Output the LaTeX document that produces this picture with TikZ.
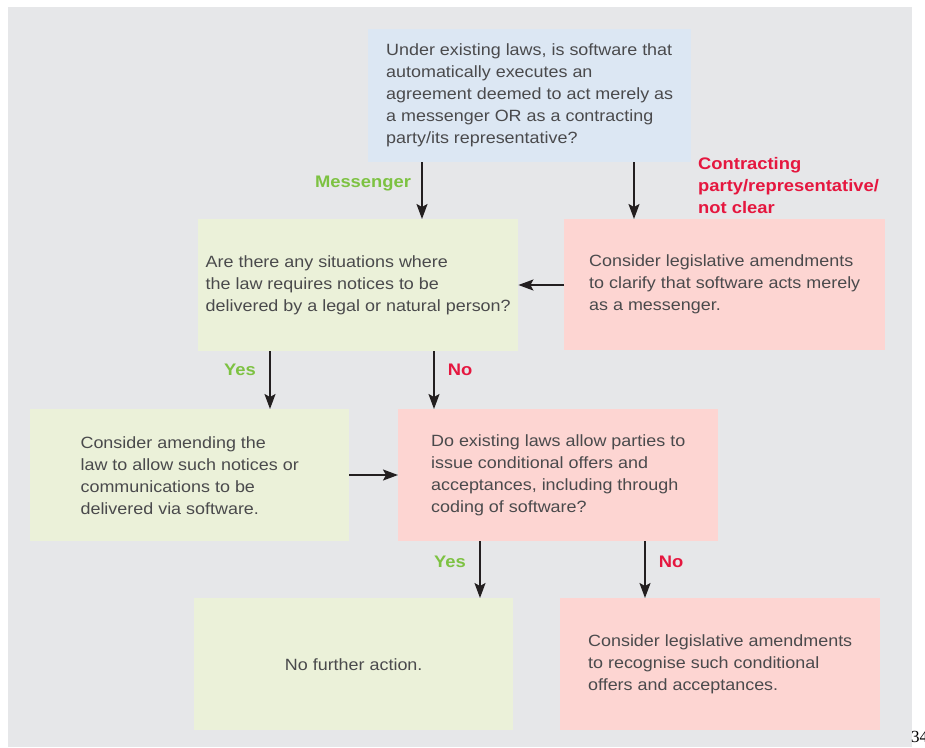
\documentclass[tikz,border=0pt]{standalone}
\usepackage{fontspec}
\setmainfont{Liberation Sans}[FakeStretch=1.1]
\newfontfamily\pnfont{Liberation Serif}
\usetikzlibrary{arrows.meta,calc}
\definecolor{bggray}{HTML}{E6E7E9}
\definecolor{qblue}{HTML}{DCE7F3}
\definecolor{bgreen}{HTML}{EBF1D9}
\definecolor{bpink}{HTML}{FDD5D2}
\definecolor{txt}{HTML}{4A4A4C}
\definecolor{lgreen}{HTML}{7DC242}
\definecolor{lred}{HTML}{E5173F}
\definecolor{arrowc}{HTML}{231F20}
\newcommand{\bodyfs}{\fontsize{16.3}{22}\selectfont}
\newcommand{\labfs}{\fontsize{16.7}{22}\selectfont\bfseries}
\begin{document}
\begin{tikzpicture}[x=1pt,y=-1pt,
  boxnode/.style={rectangle, inner sep=0pt, align=left, font=\bodyfs, text=txt, anchor=north west},
  arr/.style={draw=arrowc, line width=1.8pt, -{Stealth[length=15pt,width=11pt,inset=3pt]}},
  yeslab/.style={font=\labfs, text=lgreen},
  nolab/.style={font=\labfs, text=lred}]
\useasboundingbox (0,0) rectangle (925,747);
\fill[bggray] (8,7) rectangle (912,747);

\node[boxnode, fill=qblue, minimum width=323pt, minimum height=133pt] (q1) at (368,29)
  {Under existing laws, is software that\\automatically executes an\\agreement deemed to act merely as\\a messenger OR as a contracting\\party/its representative?};
\node[boxnode, fill=bgreen, minimum width=320pt, minimum height=132pt] (q2) at (198,219)
  {Are there any situations where\\the law requires notices to be\\delivered by a legal or natural person?};
\node[boxnode, fill=bpink, minimum width=321pt, minimum height=131pt] (a1) at (564,219)
  {Consider legislative amendments\\to clarify that software acts merely\\as a messenger.};
\node[boxnode, fill=bgreen, minimum width=319pt, minimum height=132pt] (a2) at (30,409)
  {Consider amending the\\law to allow such notices or\\communications to be\\delivered via software.};
\node[boxnode, fill=bpink, minimum width=320pt, minimum height=132pt] (q3) at (398,409)
  {Do existing laws allow parties to\\issue conditional offers and\\acceptances, including through\\coding of software?};
\node[boxnode, fill=bgreen, minimum width=319pt, minimum height=132pt] (a3) at (194,598)
  {No further action.};
\node[boxnode, fill=bpink, minimum width=320pt, minimum height=132pt] (a4) at (560,598)
  {Consider legislative amendments\\to recognise such conditional\\offers and acceptances.};

\coordinate (x1) at (422,0);
\coordinate (x2) at (634,0);
\coordinate (y1) at (0,285);
\coordinate (x3) at (270,0);
\coordinate (x4) at (434,0);
\coordinate (y2) at (0,475);
\coordinate (x5) at (480,0);
\coordinate (x6) at (645,0);

\draw[arr] (q1.south -| x1) -- (q2.north -| x1);
\draw[arr] (q1.south -| x2) -- (a1.north -| x2);
\draw[arr] (a1.west |- y1) -- (q2.east |- y1);
\draw[arr] (q2.south -| x3) -- (a2.north -| x3);
\draw[arr] (q2.south -| x4) -- (q3.north -| x4);
\draw[arr] (a2.east |- y2) -- (q3.west |- y2);
\draw[arr] (q3.south -| x5) -- (a3.north -| x5);
\draw[arr] (q3.south -| x6) -- (a4.north -| x6);

\node[yeslab] (lmess) at (363,184) {Messenger};
\node[nolab, align=left, anchor=west, inner sep=0pt] (lcontr) at (698,186)
  {Contracting\\party/representative/\\not clear};
\node[yeslab] (lyes1) at (240,370) {Yes};
\node[nolab] (lno1) at (460,370) {No};
\node[yeslab] (lyes2) at (450,562) {Yes};
\node[nolab] (lno2) at (671,562) {No};

\node[anchor=base west, inner sep=0pt, font=\pnfont\fontsize{17}{20}\selectfont, text=black] (pnum) at (911,742) {34};
\end{tikzpicture}
\end{document}
